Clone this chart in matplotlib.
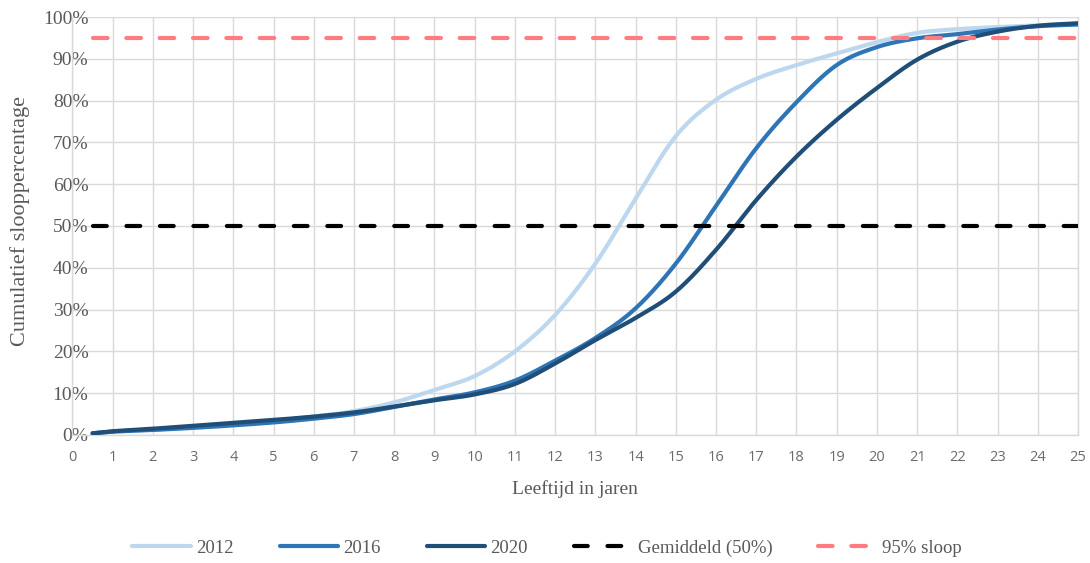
import numpy as np
import matplotlib
matplotlib.use("Agg")
import matplotlib.pyplot as plt

# ---- data ----
years = [0.5, 1, 2, 3, 4, 5, 6, 7, 8, 9, 10, 11, 12, 13, 14, 15, 16, 17, 18, 19, 20, 21, 22, 23, 24, 25]
s2012 = [0.4, 0.8, 1.3, 1.9, 2.6, 3.4, 4.4, 5.7, 7.8, 10.8, 14.1, 20.0, 28.7, 41.0, 56.5, 71.5, 80.2, 85.2, 88.5, 91.3, 94.0, 96.2, 97.1, 97.6, 98.0, 98.4]
s2016 = [0.4, 0.8, 1.2, 1.7, 2.3, 3.0, 3.9, 5.0, 6.7, 8.5, 10.2, 13.0, 17.8, 23.2, 30.3, 41.0, 54.8, 68.6, 79.6, 88.5, 92.8, 94.9, 95.9, 97.0, 97.8, 98.2]
s2020 = [0.4, 0.9, 1.5, 2.2, 2.9, 3.6, 4.4, 5.4, 6.8, 8.3, 9.7, 12.2, 17.1, 22.7, 28.0, 34.3, 44.3, 56.2, 66.6, 75.4, 83.0, 89.8, 94.1, 96.5, 97.9, 98.5]
gemiddeld = 50
sloop95 = 95
series_labels = ["2012", "2016", "2020"]
x_ticks = list(range(0, 26))
y_ticks = list(range(0, 101, 10))


def smooth(x, y, n=24):
    """Catmull-Rom display smoothing (like Excel's smoothed line)."""
    x = np.asarray(x, float)
    y = np.asarray(y, float)
    px = np.concatenate([[2 * x[0] - x[1]], x, [2 * x[-1] - x[-2]]])
    py = np.concatenate([[2 * y[0] - y[1]], y, [2 * y[-1] - y[-2]]])
    ox, oy = [], []
    t = np.linspace(0, 1, n, endpoint=False)
    for i in range(1, len(px) - 2):
        p0, p1, p2, p3 = px[i - 1:i + 3]
        q0, q1, q2, q3 = py[i - 1:i + 3]
        def cr(a0, a1, a2, a3):
            return 0.5 * ((2 * a1) + (-a0 + a2) * t + (2 * a0 - 5 * a1 + 4 * a2 - a3) * t ** 2
                          + (-a0 + 3 * a1 - 3 * a2 + a3) * t ** 3)
        ox.append(cr(p0, p1, p2, p3))
        oy.append(cr(q0, q1, q2, q3))
    ox.append([x[-1]])
    oy.append([y[-1]])
    return np.concatenate(ox), np.concatenate(oy)


plt.rcParams['lines.scale_dashes'] = False
serif = ['Liberation Serif', 'DejaVu Serif']
sans = ['Open Sans', 'DejaVu Sans']

fig = plt.figure(figsize=(10.9, 5.63), dpi=100)
ax = fig.add_axes([0.0665, 0.2274, 0.9225, 0.7424])

colors = ["#BDD7EE", "#2E75B6", "#1F4E79"]
for lab, vals, c in zip(series_labels, [s2012, s2016, s2020], colors):
    sx, sy = smooth(years, vals)
    ax.plot(sx, sy, color=c, lw=3.0, solid_capstyle='round', label=lab, zorder=3)

ax.plot([years[0], years[-1]], [gemiddeld, gemiddeld], color='black', lw=3.0,
        dashes=(9.9, 14.2), dash_capstyle='round', label='Gemiddeld (50%)', zorder=4)
ax.plot([years[0], years[-1]], [sloop95, sloop95], color='#FF7C80', lw=3.0,
        dashes=(10.5, 13.5), dash_capstyle='round', label='95% sloop', zorder=4)

ax.set_xlim(0, 25)
ax.set_ylim(0, 100)
ax.set_xticks(x_ticks)
ax.set_yticks(y_ticks)
ax.set_yticklabels([f"{v}%" for v in y_ticks])
ax.set_xticklabels([str(v) for v in x_ticks])
for t in ax.get_yticklabels():
    t.set_fontfamily(serif)
    t.set_fontsize(14)
    t.set_color('#595959')
for t in ax.get_xticklabels():
    t.set_fontfamily(sans)
    t.set_fontsize(10.5)
    t.set_color('#6b6b6b')
ax.tick_params(axis='both', length=0)
ax.tick_params(axis='x', pad=11)
ax.tick_params(axis='y', pad=-11.5)
ax.grid(True, color='#D9D9D9', lw=1.0, zorder=0)
for sp in ax.spines.values():
    sp.set_color('#D9D9D9')
    sp.set_linewidth(1.0)
ax.spines['top'].set_visible(False)
ax.set_axisbelow(True)

ax.set_xlabel("Leeftijd in jaren", family=serif, fontsize=14, color='#595959', labelpad=11)
fig.text(20 / 1090, 1 - 221 / 563, "Cumulatief slooppercentage", rotation=90, ha='center',
         va='center', family=serif, fontsize=16, color='#595959')

handles, labels = ax.get_legend_handles_labels()
leg = fig.legend(handles, labels, loc='center', bbox_to_anchor=(0.502, 0.026), ncol=5,
                 frameon=False, handlelength=3.1, handletextpad=0.3, columnspacing=2.45,
                 prop={'family': serif, 'size': 13.5})
for t in leg.get_texts():
    t.set_color('#595959')

fig.savefig("out.png", dpi=100)
